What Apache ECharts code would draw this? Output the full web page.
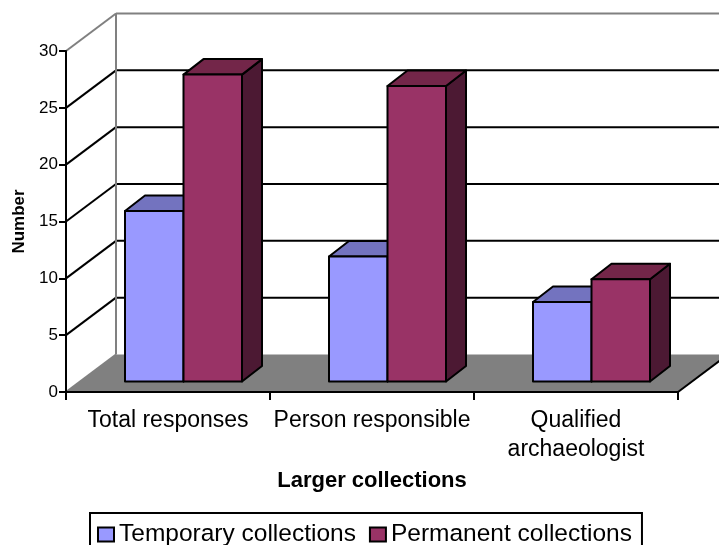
<!DOCTYPE html>
<html><head><meta charset="utf-8">
<style>html,body{margin:0;padding:0;background:#fff;overflow:hidden}#c{width:719px;height:545px}</style>
<script src="https://cdn.jsdelivr.net/npm/echarts@6/dist/echarts.min.js"></script>
</head><body><div id="c"></div>
<script>
const categories = ['Total responses', 'Person responsible', 'Qualified\narchaeologist'];
const temporary = [15, 11, 7];
const permanent = [27, 26, 9];
const yTicks = [0, 5, 10, 15, 20, 25, 30];

// oblique projection constants (pixels)
const wall = {dx: 50, dy: -37.5};
const barBase = {dx: 15.5, dy: -10.5};
const barDepth = {dx: 20, dy: -15.5};
const barW = 58.5;
const INK = '#000', GREY = '#808080';

function poly(points, fill, stroke, lw) {
  return {type: 'polygon', shape: {points}, style: {fill, stroke, lineWidth: lw, lineJoin: 'round'}};
}
function seg(a, b, stroke, lw) {
  return {type: 'line', shape: {x1: a[0], y1: a[1], x2: b[0], y2: b[1]}, style: {stroke, lineWidth: lw}};
}
function frameItem(params, api) {
  const v = api.value(0);
  const cs = params.coordSys;
  const left = cs.x, right = cs.x + cs.width;
  const p = api.coord([0, v]);
  const y = p[1];
  const kids = [];
  const top = v === 30;
  const bottom = v === 0;
  if (bottom) {
    kids.push(poly([[left, y], [left + wall.dx, y + wall.dy], [right + wall.dx, y + wall.dy], [right, y]], GREY, null, 0));
    kids.push(seg([right, y], [right + wall.dx, y + wall.dy], INK, 2));
    kids.push(seg([left, y], [left + wall.dx, y + wall.dy], GREY, 2));
  } else {
    kids.push(seg([left, y], [left + wall.dx, y + wall.dy], top ? GREY : INK, 2));
    kids.push(seg([left + wall.dx, y + wall.dy], [right + wall.dx, y + wall.dy], top ? GREY : INK, 2));
  }
  if (top) {
    const y0 = api.coord([0, 0])[1];
    kids.push(seg([left + wall.dx, y + wall.dy], [left + wall.dx, y0 + wall.dy], GREY, 2));
  }
  return {type: 'group', children: kids};
}
function barItem(front, topC, sideC, seriesIndexOffset) {
  return function (params, api) {
    const cat = api.value(0), val = api.value(1);
    const c = api.coord([cat, val]);
    const c0 = api.coord([cat, 0]);
    const xc = c[0] + barBase.dx;
    const x0 = xc + seriesIndexOffset * barW, x1 = x0 + barW;
    const yt = c[1] + barBase.dy, yb = c0[1] + barBase.dy;
    const d = barDepth;
    return {type: 'group', children: [
      poly([[x1, yt], [x1 + d.dx, yt + d.dy], [x1 + d.dx, yb + d.dy], [x1, yb]], sideC, INK, 2),
      poly([[x0, yt], [x0 + d.dx, yt + d.dy], [x1 + d.dx, yt + d.dy], [x1, yt]], topC, INK, 2),
      poly([[x0, yt], [x1, yt], [x1, yb], [x0, yb]], front, INK, 2)
    ]};
  };
}
const chart = echarts.init(document.getElementById('c'), null, {renderer: 'canvas'});
const FF = '"Liberation Sans", Arial, sans-serif';
chart.setOption({
  animation: false,
  backgroundColor: '#fff',
  textStyle: {fontFamily: FF, color: INK},
  grid: {left: 66, right: 41, top: 51, bottom: 153},
  legend: {
    left: 90, top: 513, orient: 'horizontal',
    data: ['Temporary collections', 'Permanent collections'],
    itemWidth: 16, itemHeight: 14, itemGap: 13, icon: 'rect',
    padding: [9, 10, 8, 7],
    borderColor: INK, borderWidth: 2,
    textStyle: {fontFamily: FF, fontSize: 24.5, color: INK},
    itemStyle: {borderColor: INK, borderWidth: 2}
  },
  xAxis: {
    type: 'category', data: categories, z: 5,
    name: 'Larger collections', nameLocation: 'middle', nameGap: 78, nameMoveOverlap: false,
    nameTextStyle: {fontFamily: FF, fontWeight: 'bold', fontSize: 22, color: INK},
    axisLine: {show: true, lineStyle: {color: INK, width: 2}},
    axisTick: {show: true, inside: false, length: 8, alignWithLabel: false, lineStyle: {color: INK, width: 2}},
    axisLabel: {fontFamily: FF, fontSize: 23, color: INK, margin: 14, lineHeight: 29, interval: 0},
    splitLine: {show: false}
  },
  yAxis: {
    type: 'value', min: 0, max: 30, interval: 5, z: 5,
    name: 'Number', nameLocation: 'middle', nameGap: 38, nameRotate: 90, nameMoveOverlap: false,
    nameTextStyle: {fontFamily: FF, fontWeight: 'bold', fontSize: 17, color: INK},
    axisLine: {show: true, lineStyle: {color: INK, width: 2}},
    axisTick: {show: true, inside: false, length: 7, lineStyle: {color: INK, width: 2}},
    axisLabel: {fontFamily: FF, fontSize: 17, color: INK, margin: 8, padding: [3, 0, 0, 0]},
    splitLine: {show: false}
  },
  series: [
    {type: 'custom', name: 'frame', renderItem: frameItem, clip: false, z: 1, silent: true,
      data: yTicks.map(v => [v]), encode: {y: 0}},
    {type: 'custom', name: 'Temporary collections', clip: false, z: 3,
      renderItem: barItem('#9999FF', '#7373BF', '#4C4C7F', -1),
      itemStyle: {color: '#9999FF'},
      data: temporary.map((v, i) => [i, v]), encode: {x: 0, y: 1}},
    {type: 'custom', name: 'Permanent collections', clip: false, z: 4,
      renderItem: barItem('#993366', '#732649', '#4C1933', 0),
      itemStyle: {color: '#993366'},
      data: permanent.map((v, i) => [i, v]), encode: {x: 0, y: 1}}
  ]
});
</script></body></html>
